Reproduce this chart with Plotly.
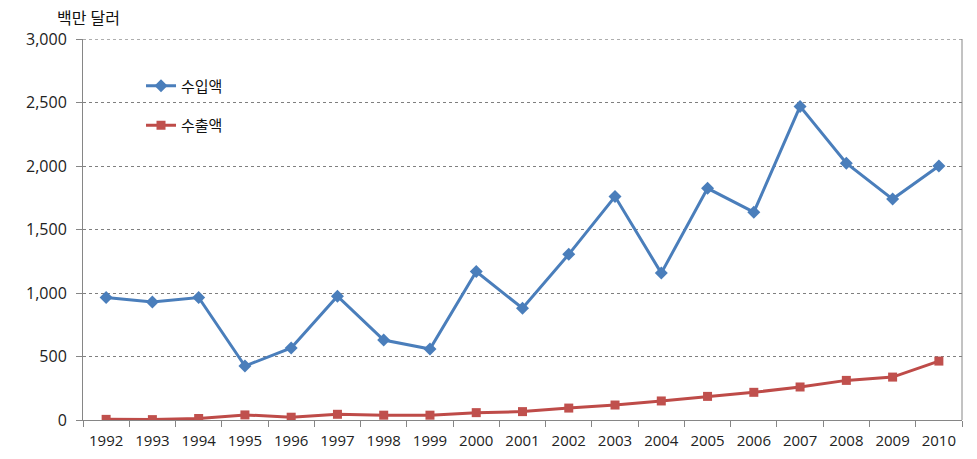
import plotly.graph_objects as go

years = ["1992", "1993", "1994", "1995", "1996", "1997", "1998", "1999", "2000", "2001",
         "2002", "2003", "2004", "2005", "2006", "2007", "2008", "2009", "2010"]
imports = [965, 930, 965, 425, 567, 975, 630, 559, 1170, 880,
           1305, 1760, 1157, 1825, 1637, 2470, 2023, 1740, 2000]
exports = [5, 3, 12, 40, 22, 45, 38, 38, 58, 66,
           94, 118, 150, 186, 218, 260, 312, 338, 464]
y_ticks = [0, 500, 1000, 1500, 2000, 2500, 3000]

font_fam = "Open Sans, Noto Sans CJK KR, sans-serif"

fig = go.Figure()
fig.add_trace(go.Scatter(
    x=years, y=imports, name="수입액", mode="lines+markers",
    line=dict(color="#4A7EBB", width=3),
    marker=dict(symbol="diamond", size=10, color="#4A7EBB"),
    legendgroup="a",
))
fig.add_trace(go.Scatter(
    x=years, y=exports, name="수출액", mode="lines+markers",
    line=dict(color="#BE4B48", width=3),
    marker=dict(symbol="square", size=9, color="#C0504D"),
    legendgroup="b",
))

fig.update_layout(
    width=977, height=459,
    margin=dict(l=75, r=23, t=31, b=47),
    paper_bgcolor="white", plot_bgcolor="white",
    font=dict(family=font_fam, size=15, color="#222222"),
    showlegend=True,
    legend=dict(x=0.066, y=0.92, xanchor="left", yanchor="top",
                bgcolor="rgba(0,0,0,0)", tracegroupgap=17,
                font=dict(size=15, color="#111111")),
    xaxis=dict(type="category", range=[-0.5, 18.5], automargin=False,
               showgrid=False, showline=True, linecolor="#868686",
               linewidth=1, ticks="outside", tickson="boundaries", ticklen=6,
               tickcolor="#868686", ticklabelstandoff=7,
               tickfont=dict(size=15, color="#222222")),
    yaxis=dict(range=[0, 3001], tickvals=y_ticks,
               tickformat=",", automargin=False, showgrid=True,
               gridcolor="#7F7F7F", griddash="dot", gridwidth=1,
               showline=True, linecolor="#868686", linewidth=1,
               ticks="outside", ticklen=6, tickcolor="#868686",
               ticklabelstandoff=6,
               zeroline=False, tickfont=dict(size=16, color="#222222")),
    annotations=[dict(text="백만 달러", xref="paper", yref="paper", x=0.006, y=1,
                      xanchor="center", yanchor="bottom", yshift=8, showarrow=False,
                      font=dict(size=16, color="#111111"))],
    shapes=[
        dict(type="line", xref="paper", yref="paper", x0=1, x1=1, y0=0, y1=1,
             line=dict(color="#868686", width=1)),
        dict(type="line", xref="paper", yref="y", x0=0, x1=1, y0=y_ticks[-1], y1=y_ticks[-1],
             line=dict(color="#7F7F7F", width=1, dash="dot"), layer="below"),
    ],
)

fig.write_html("out.html")
